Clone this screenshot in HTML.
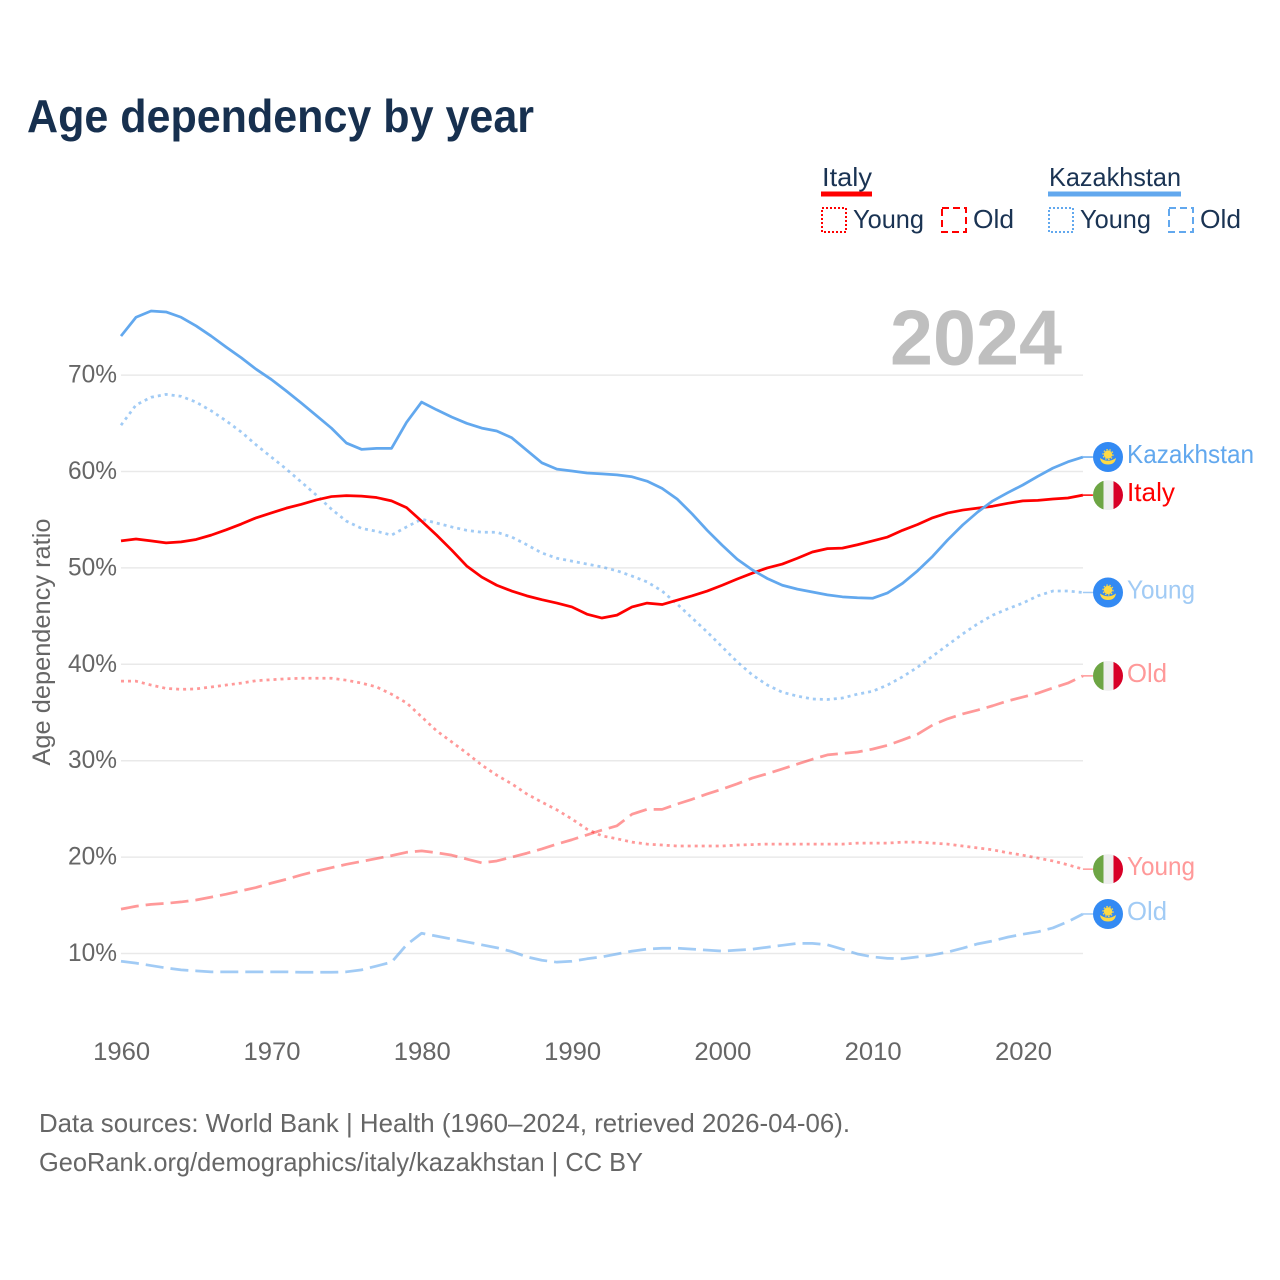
<!DOCTYPE html>
<html lang="en">
<head>
<meta charset="utf-8">
<title>Age dependency by year</title>
<style>
html,body{margin:0;padding:0;background:#fff;width:1280px;height:1280px;overflow:hidden}
svg{display:block}
text{font-family:"Liberation Sans",sans-serif}
.tick{font-size:25px;fill:#666}
.leg{font-size:26px;fill:#1a3353}
.foot{font-size:26px;fill:#666}
.end{font-size:26px}
</style>
</head>
<body>
<svg id="chart" xmlns="http://www.w3.org/2000/svg" width="1280" height="1280" viewBox="0 0 1280 1280">
  <rect x="0" y="0" width="1280" height="1280" fill="#fff"/>
  <text x="27" y="132" font-size="46" font-weight="700" fill="#17304f" textLength="507" lengthAdjust="spacingAndGlyphs">Age dependency by year</text>

  <g>
    <text class="leg" x="822" y="186" textLength="50" lengthAdjust="spacingAndGlyphs">Italy</text>
    <rect x="821" y="191.5" width="51" height="5" fill="#ff0000"/>
    <rect x="822" y="208" width="24" height="24" fill="none" stroke="#ff0000" stroke-width="2" stroke-dasharray="2 2"/>
    <text class="leg" x="853" y="228" textLength="71" lengthAdjust="spacingAndGlyphs">Young</text>
    <rect x="942" y="208" width="24" height="24" fill="none" stroke="#ff0000" stroke-width="2" stroke-dasharray="7 4"/>
    <text class="leg" x="973" y="228" textLength="41" lengthAdjust="spacingAndGlyphs">Old</text>

    <text class="leg" x="1049" y="186" textLength="132" lengthAdjust="spacingAndGlyphs">Kazakhstan</text>
    <rect x="1048" y="191.5" width="133" height="5" fill="#62a8ee"/>
    <rect x="1049" y="208" width="24" height="24" fill="none" stroke="#62a8ee" stroke-width="2" stroke-dasharray="2 2"/>
    <text class="leg" x="1080" y="228" textLength="71" lengthAdjust="spacingAndGlyphs">Young</text>
    <rect x="1169" y="208" width="24" height="24" fill="none" stroke="#62a8ee" stroke-width="2" stroke-dasharray="7 4"/>
    <text class="leg" x="1200" y="228" textLength="41" lengthAdjust="spacingAndGlyphs">Old</text>
  </g>

  <g id="grid"></g>
  <text x="890" y="364.5" font-size="78" font-weight="700" fill="#bfbfbf" textLength="172" lengthAdjust="spacingAndGlyphs">2024</text>
  <g id="yticks"></g>
  <g id="xticks"></g>
  <text transform="translate(50 642) rotate(-90)" text-anchor="middle" font-size="25" fill="#666" textLength="247" lengthAdjust="spacingAndGlyphs">Age dependency ratio</text>

  <g id="lines"></g>
  <g id="ends"></g>

  <text class="foot" x="39" y="1132" textLength="811" lengthAdjust="spacingAndGlyphs">Data sources: World Bank | Health (1960–2024, retrieved 2026-04-06).</text>
  <text class="foot" x="39" y="1171" textLength="604" lengthAdjust="spacingAndGlyphs">GeoRank.org/demographics/italy/kazakhstan | CC BY</text>
</svg>
<script>
const startYear = 1960;
const xTickYears = [1960, 1970, 1980, 1990, 2000, 2010, 2020];
const yTickValues = [10, 20, 30, 40, 50, 60, 70];

const kazakhstanTotal = [74.05,76.0,76.65,76.55,76.0,75.1,74.05,72.9,71.8,70.6,69.55,68.35,67.1,65.8,64.5,62.95,62.3,62.4,62.4,65.1,67.2,66.4,65.65,65.0,64.5,64.2,63.5,62.2,60.9,60.25,60.05,59.85,59.75,59.65,59.45,59.0,58.25,57.15,55.6,53.9,52.35,50.9,49.8,48.9,48.2,47.8,47.5,47.2,47.0,46.9,46.85,47.4,48.4,49.7,51.2,52.9,54.45,55.8,56.95,57.8,58.6,59.5,60.35,61.0,61.5];
const kazakhstanYoung = [64.8,66.9,67.7,68.0,67.8,67.2,66.3,65.25,64.1,62.75,61.5,60.25,58.9,57.55,56.1,54.85,54.1,53.8,53.4,54.25,55.05,54.65,54.25,53.9,53.7,53.7,53.2,52.4,51.55,51.0,50.7,50.4,50.1,49.7,49.15,48.55,47.6,46.25,44.8,43.35,41.8,40.25,38.9,37.85,37.1,36.7,36.4,36.35,36.5,36.9,37.2,37.85,38.7,39.7,40.85,42.0,43.15,44.2,45.1,45.75,46.35,47.1,47.6,47.6,47.45];
const kazakhstanOld = [9.2,9.0,8.75,8.5,8.3,8.2,8.1,8.1,8.1,8.1,8.1,8.1,8.05,8.05,8.05,8.1,8.3,8.7,9.1,10.9,12.1,11.8,11.5,11.2,10.9,10.6,10.2,9.65,9.3,9.1,9.2,9.45,9.65,9.95,10.25,10.45,10.55,10.55,10.45,10.35,10.25,10.35,10.45,10.65,10.85,11.05,11.05,10.9,10.45,9.95,9.65,9.5,9.45,9.65,9.85,10.15,10.55,11.0,11.3,11.7,12.0,12.25,12.65,13.3,14.1];
const italyTotal = [52.8,53.0,52.8,52.6,52.7,52.95,53.4,53.95,54.55,55.2,55.7,56.2,56.6,57.05,57.4,57.5,57.45,57.3,56.95,56.25,54.85,53.4,51.85,50.2,49.05,48.2,47.6,47.1,46.7,46.35,45.95,45.2,44.8,45.1,45.95,46.35,46.2,46.65,47.1,47.6,48.2,48.85,49.45,50.0,50.4,51.0,51.65,52.0,52.05,52.4,52.8,53.2,53.9,54.5,55.2,55.7,56.0,56.2,56.4,56.7,56.95,57.0,57.15,57.25,57.55];
const italyYoung = [38.25,38.25,37.85,37.5,37.4,37.45,37.65,37.85,38.05,38.3,38.4,38.5,38.55,38.55,38.55,38.35,38.05,37.65,36.9,36.0,34.55,33.1,31.95,30.8,29.55,28.5,27.6,26.55,25.7,24.9,23.95,22.9,22.2,21.9,21.55,21.35,21.25,21.15,21.15,21.15,21.15,21.25,21.3,21.35,21.35,21.35,21.35,21.35,21.35,21.45,21.45,21.45,21.55,21.55,21.45,21.35,21.15,20.95,20.75,20.45,20.2,19.9,19.6,19.2,18.75];
const italyOld = [14.6,14.9,15.1,15.2,15.35,15.55,15.85,16.15,16.5,16.85,17.3,17.7,18.15,18.55,18.9,19.25,19.55,19.85,20.15,20.5,20.65,20.45,20.2,19.8,19.4,19.6,20.0,20.4,20.85,21.35,21.8,22.3,22.8,23.25,24.45,24.95,24.95,25.5,26.0,26.55,27.05,27.6,28.2,28.65,29.15,29.65,30.15,30.6,30.75,30.9,31.2,31.6,32.15,32.75,33.7,34.35,34.85,35.25,35.7,36.2,36.6,37.0,37.55,38.05,38.8];

const NS = 'http://www.w3.org/2000/svg';
function xPos(year) { return 121 + (year - 1960) * 15.03; }
function yPos(value) { return 953.5 - (value - 10) * 9.64; }
function make(tag, parent, attrs) {
  const el = document.createElementNS(NS, tag);
  for (const k in attrs) el.setAttribute(k, attrs[k]);
  parent.appendChild(el);
  return el;
}

const grid = document.getElementById('grid');
const yticks = document.getElementById('yticks');
yTickValues.forEach(function (v) {
  const gl = make('line', grid, {x1: 121, x2: 1083, y1: yPos(v), y2: yPos(v), stroke: '#e9e9e9', 'stroke-width': 1.5});
  
  
  const t = make('text', yticks, {x: 117, y: yPos(v) + 7.5, 'text-anchor': 'end', class: 'tick', textLength: 49, lengthAdjust: 'spacingAndGlyphs'});
  
  
  t.textContent = v + '%';
});

const xticks = document.getElementById('xticks');
xTickYears.forEach(function (yr) {
  const t = make('text', xticks, {x: xPos(yr) + 0.7, y: 1060, 'text-anchor': 'middle', class: 'tick', textLength: 57, lengthAdjust: 'spacingAndGlyphs'});
  
  
  t.textContent = yr;
});

function drawLine(values, color, dash, opacity, name) {
  const parent = document.getElementById('lines');
  const pts = values.map(function (v, i) { return xPos(startYear + i).toFixed(2) + ',' + yPos(v).toFixed(2); });
  const lastX = xPos(startYear + values.length - 1);
  const lastY = yPos(values[values.length - 1]);
  const line = make('polyline', parent, {points: pts.join(' '), fill: 'none', stroke: color, 'stroke-width': 2.75, 'stroke-linejoin': 'round', opacity: opacity});
  if (dash) line.setAttribute('stroke-dasharray', dash);
  
  
  const conn = make('line', parent, {x1: lastX, x2: lastX + 10, y1: lastY, y2: lastY, stroke: color, 'stroke-width': 1.5, opacity: opacity});
  
  
  return lastY;
}

function flagItaly(g, cx, cy) {
  const id = 'clip' + Math.round(cy);
  const cp = make('clipPath', g, {id: id});
  make('circle', cp, {cx: cx, cy: cy, r: 15});
  const f = make('g', g, {'clip-path': 'url(#' + id + ')'});
  make('rect', f, {x: cx - 15, y: cy - 15, width: 10.5, height: 30, fill: '#6da544'});
  make('rect', f, {x: cx - 4.5, y: cy - 15, width: 10, height: 30, fill: '#eeeeee'});
  make('rect', f, {x: cx + 5.5, y: cy - 15, width: 10, height: 30, fill: '#d80027'});
}
function flagKazakhstan(g, cx, cy) {
  make('circle', g, {cx: cx, cy: cy, r: 15, fill: '#338af3'});
  make('circle', g, {cx: cx, cy: cy - 2.5, r: 4.2, fill: '#ffda44'});
  make('circle', g, {cx: cx, cy: cy - 2.5, r: 5, fill: 'none', stroke: '#ffda44', 'stroke-width': 1.2, 'stroke-dasharray': '1.5 1.6'});
  make('path', g, {d: 'M' + (cx - 8) + ' ' + (cy + 1) + 'Q' + cx + ' ' + (cy + 6.5) + ' ' + (cx + 8) + ' ' + (cy + 1) + 'Q' + (cx + 7) + ' ' + (cy + 7.5) + ' ' + cx + ' ' + (cy + 7.5) + 'Q' + (cx - 7) + ' ' + (cy + 7.5) + ' ' + (cx - 8) + ' ' + (cy + 1) + 'Z', fill: '#ffda44'});
}
function endLabel(lastY, flagFn, color, labelText, labelWidth, name, labelDy) {
  const ends = document.getElementById('ends');
  const g = make('g', ends, {});
  
  
  flagFn(g, 1108, lastY);
  const t = make('text', g, {x: 1127, y: lastY + 8 + labelDy, class: 'end', fill: color, textLength: labelWidth, lengthAdjust: 'spacingAndGlyphs'});
  t.textContent = labelText;
}

const itOldY = drawLine(italyOld, '#ff0000', '18 7', 0.4, 'italy-old');
const itYoungY = drawLine(italyYoung, '#ff0000', '3 4', 0.4, 'italy-young');
const kzOldY = drawLine(kazakhstanOld, '#62a8ee', '18 7', 0.6, 'kazakhstan-old');
const kzYoungY = drawLine(kazakhstanYoung, '#62a8ee', '3 4', 0.6, 'kazakhstan-young');
const itTotalY = drawLine(italyTotal, '#ff0000', null, 1, 'italy-total');
const kzTotalY = drawLine(kazakhstanTotal, '#62a8ee', null, 1, 'kazakhstan-total');

endLabel(kzTotalY, flagKazakhstan, '#62a8ee', 'Kazakhstan', 127, 'kazakhstan-total', -2);
endLabel(itTotalY, flagItaly, '#ff0000', 'Italy', 48, 'italy-total', -2);
endLabel(kzYoungY, flagKazakhstan, '#a1cbf5', 'Young', 68, 'kazakhstan-young', -2);
endLabel(itOldY, flagItaly, '#ff9999', 'Old', 40, 'italy-old', -2);
endLabel(itYoungY, flagItaly, '#ff9999', 'Young', 68, 'italy-young', -2);
endLabel(kzOldY, flagKazakhstan, '#a1cbf5', 'Old', 40, 'kazakhstan-old', -2);
</script>
</body>
</html>
